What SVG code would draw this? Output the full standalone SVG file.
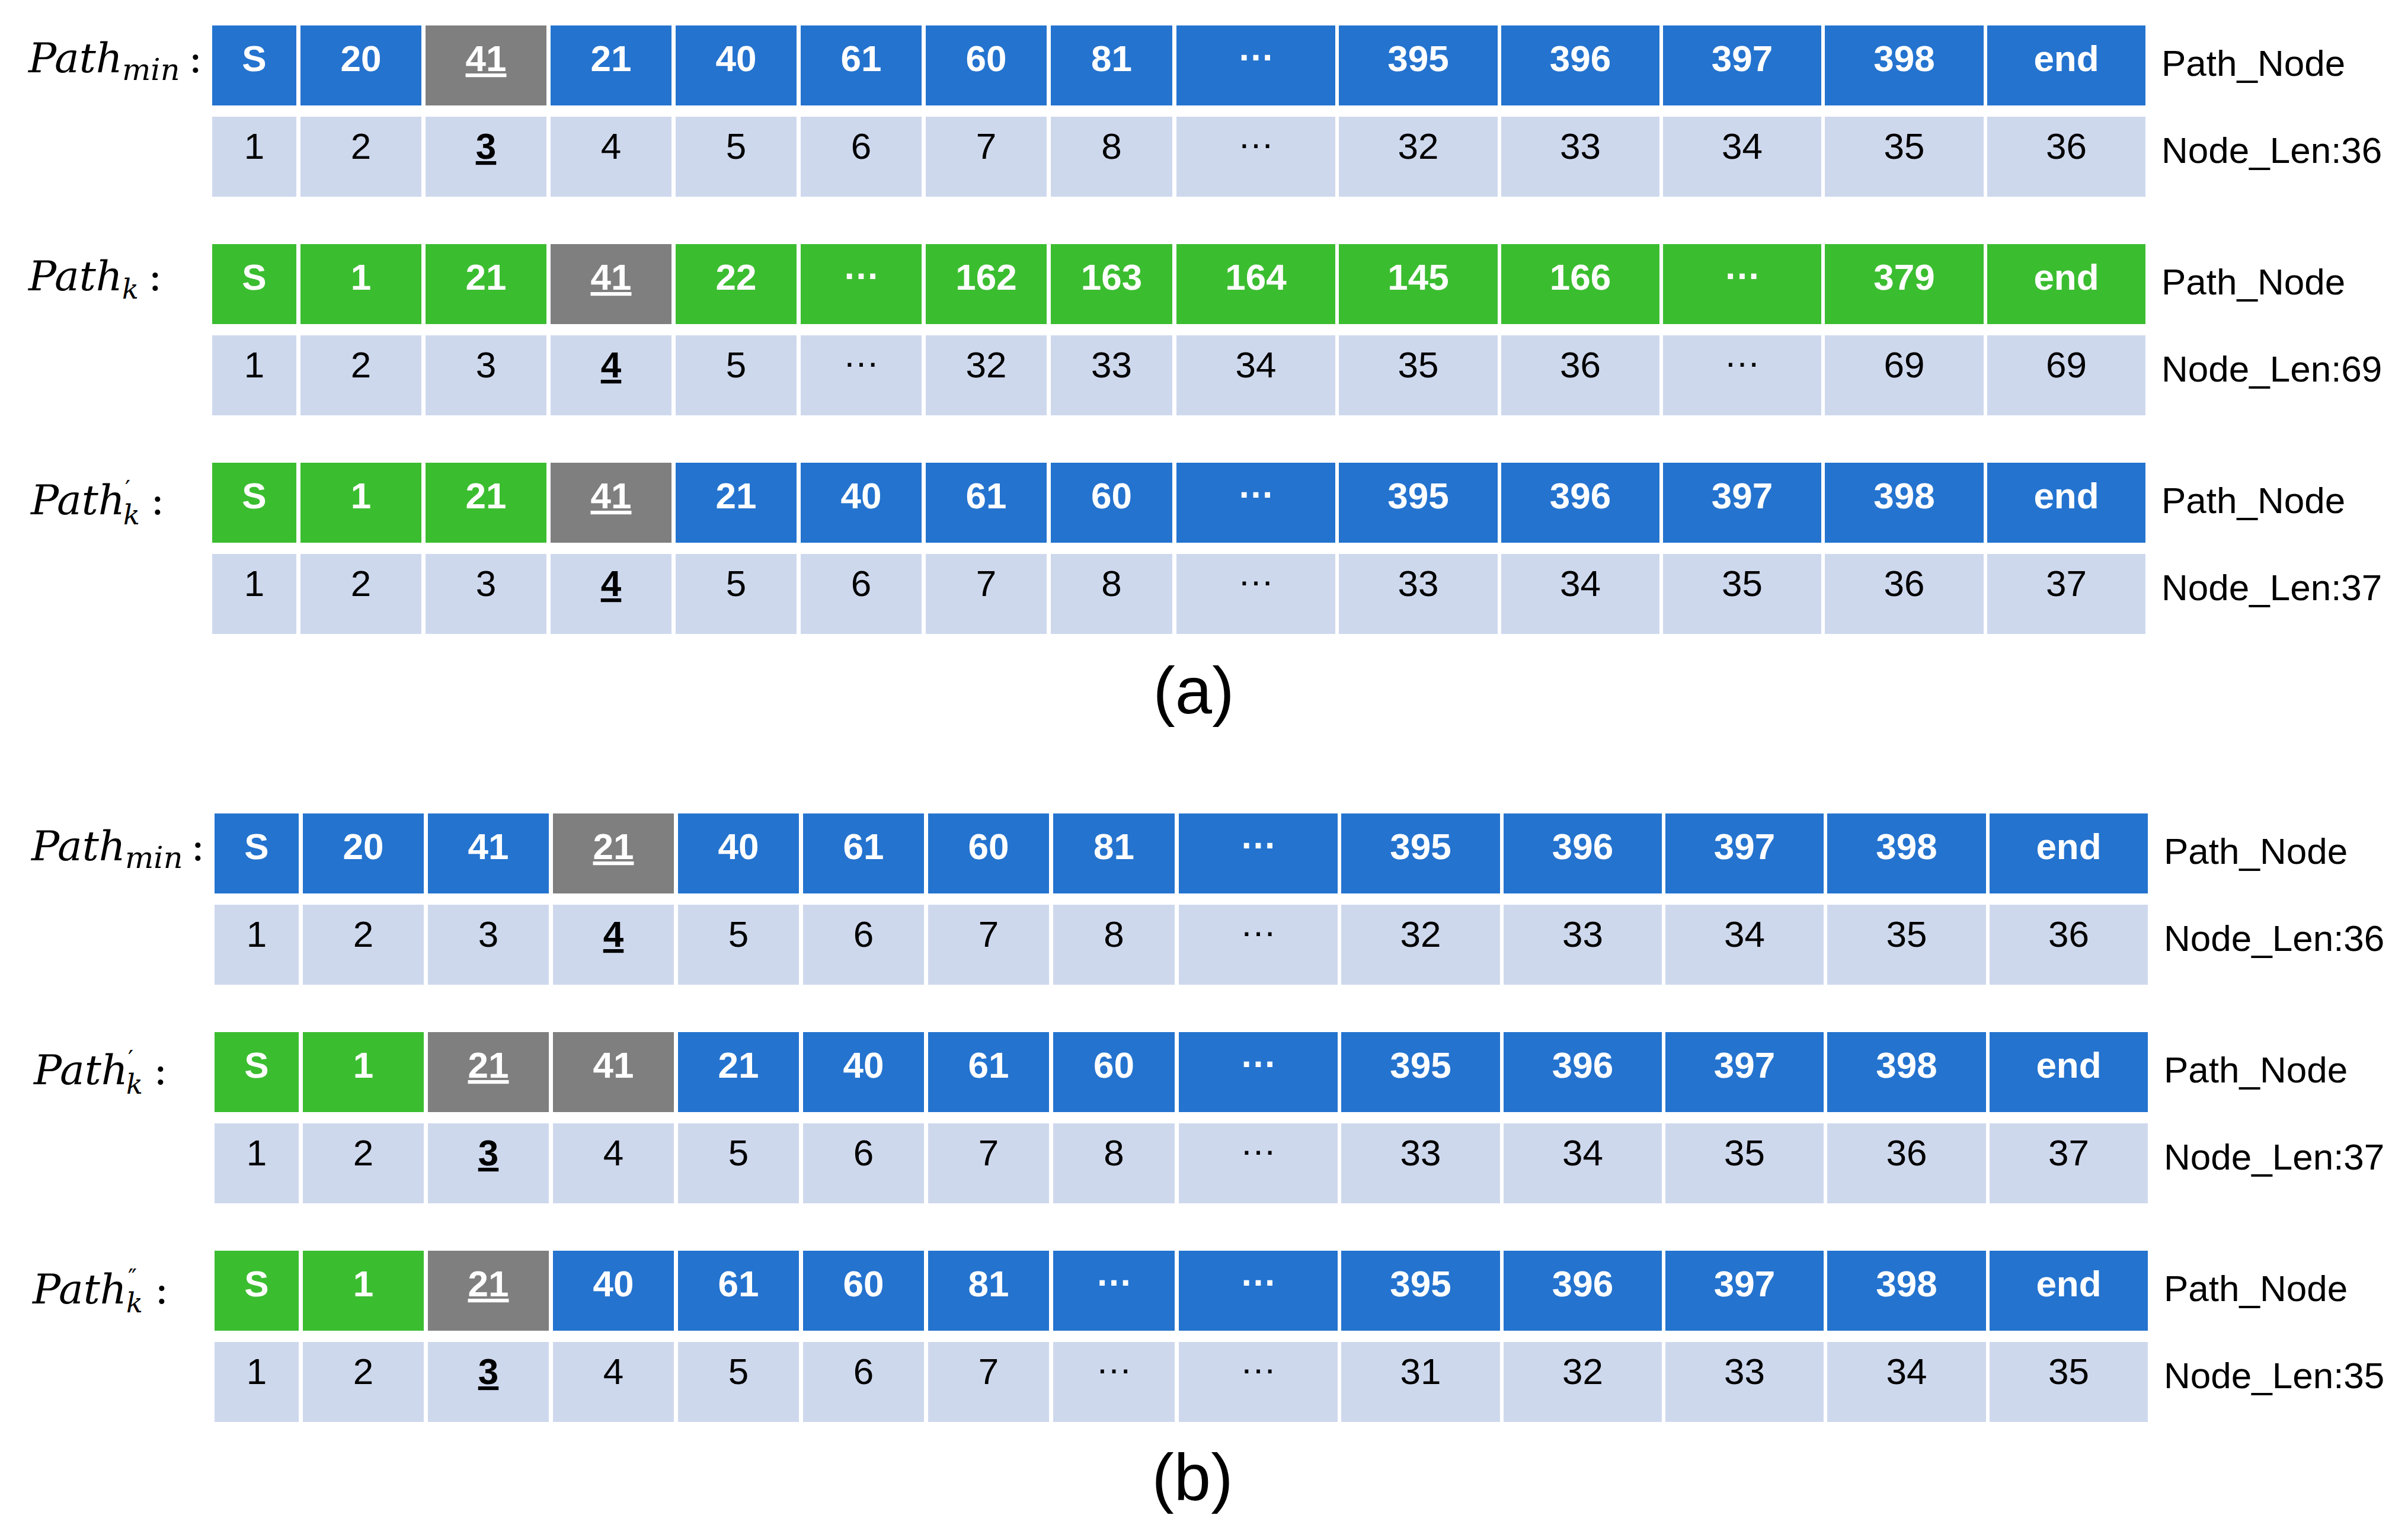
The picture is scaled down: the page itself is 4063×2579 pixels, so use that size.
<svg xmlns="http://www.w3.org/2000/svg" width="4063" height="2579" viewBox="0 0 4063 2579">
<style>
.b{fill:#2473CF}.g{fill:#3BBD30}.x{fill:#7F7F7F}.l{fill:#CED8ED}
.t{font-family:"Liberation Sans",Arial,sans-serif;font-weight:bold;font-size:62px;fill:#fff;text-anchor:middle}
.n{font-family:"Liberation Sans",Arial,sans-serif;font-size:62px;fill:#000;text-anchor:middle}
.u{text-decoration:underline}
.nb{font-weight:bold}
.r{font-family:"Liberation Sans",Arial,sans-serif;font-size:62px;fill:#000}
.pl{font-family:"DejaVu Serif",serif;font-style:italic;font-size:70px;fill:#000}
.sb{font-size:46px}
.sm{font-size:51px}
.pr{font-size:40px;font-style:normal}
.co{font-style:normal}
.cap{font-family:"Liberation Sans",Arial,sans-serif;font-size:112px;fill:#000;text-anchor:middle}
</style>
<rect width="4063" height="2579" fill="#fff"/>
<g id="connectors"/>
<g id="panel-a">
<g id="a-pathmin" transform="translate(0,43)">
<text class="pl" x="48" y="79">Path<tspan class="sm" x="206" y="92">min</tspan><tspan class="co" x="318" y="79">:</tspan></text>
<g id="a1-c0"><rect class="b" x="358" width="142" height="135"/><text class="t" x="429" y="77">S</text></g>
<g id="a1-c1"><rect class="b" x="507" width="204" height="135"/><text class="t" x="609" y="77">20</text></g>
<g id="a1-c2"><rect class="x" x="718" width="204" height="135"/><text class="t u" x="820" y="77">41</text></g>
<g id="a1-c3"><rect class="b" x="929" width="204" height="135"/><text class="t" x="1031" y="77">21</text></g>
<g id="a1-c4"><rect class="b" x="1140" width="204" height="135"/><text class="t" x="1242" y="77">40</text></g>
<g id="a1-c5"><rect class="b" x="1351" width="204" height="135"/><text class="t" x="1453" y="77">61</text></g>
<g id="a1-c6"><rect class="b" x="1562" width="204" height="135"/><text class="t" x="1664" y="77">60</text></g>
<g id="a1-c7"><rect class="b" x="1773" width="205" height="135"/><text class="t" x="1875.5" y="77">81</text></g>
<g id="a1-c8"><rect class="b" x="1985" width="268" height="135"/><text class="t" x="2119" y="59">…</text></g>
<g id="a1-c9"><rect class="b" x="2259" width="268" height="135"/><text class="t" x="2393" y="77">395</text></g>
<g id="a1-c10"><rect class="b" x="2533" width="267" height="135"/><text class="t" x="2666.5" y="77">396</text></g>
<g id="a1-c11"><rect class="b" x="2806" width="267" height="135"/><text class="t" x="2939.5" y="77">397</text></g>
<g id="a1-c12"><rect class="b" x="3079" width="268" height="135"/><text class="t" x="3213" y="77">398</text></g>
<g id="a1-c13"><rect class="b" x="3353" width="267" height="135"/><text class="t" x="3486.5" y="77">end</text></g>
<g id="a2-c0"><rect class="l" x="358" y="154" width="142" height="135"/><text class="n" x="429" y="225">1</text></g>
<g id="a2-c1"><rect class="l" x="507" y="154" width="204" height="135"/><text class="n" x="609" y="225">2</text></g>
<g id="a2-c2"><rect class="l" x="718" y="154" width="204" height="135"/><text class="n nb u" x="820" y="225">3</text></g>
<g id="a2-c3"><rect class="l" x="929" y="154" width="204" height="135"/><text class="n" x="1031" y="225">4</text></g>
<g id="a2-c4"><rect class="l" x="1140" y="154" width="204" height="135"/><text class="n" x="1242" y="225">5</text></g>
<g id="a2-c5"><rect class="l" x="1351" y="154" width="204" height="135"/><text class="n" x="1453" y="225">6</text></g>
<g id="a2-c6"><rect class="l" x="1562" y="154" width="204" height="135"/><text class="n" x="1664" y="225">7</text></g>
<g id="a2-c7"><rect class="l" x="1773" y="154" width="205" height="135"/><text class="n" x="1875.5" y="225">8</text></g>
<g id="a2-c8"><rect class="l" x="1985" y="154" width="268" height="135"/><text class="n" x="2119" y="207">…</text></g>
<g id="a2-c9"><rect class="l" x="2259" y="154" width="268" height="135"/><text class="n" x="2393" y="225">32</text></g>
<g id="a2-c10"><rect class="l" x="2533" y="154" width="267" height="135"/><text class="n" x="2666.5" y="225">33</text></g>
<g id="a2-c11"><rect class="l" x="2806" y="154" width="267" height="135"/><text class="n" x="2939.5" y="225">34</text></g>
<g id="a2-c12"><rect class="l" x="3079" y="154" width="268" height="135"/><text class="n" x="3213" y="225">35</text></g>
<g id="a2-c13"><rect class="l" x="3353" y="154" width="267" height="135"/><text class="n" x="3486.5" y="225">36</text></g>
<text class="r" x="3647" y="85">Path_Node</text>
<text class="r" x="3647" y="232">Node_Len:36</text>
</g>
<g id="a-pathk" transform="translate(0,412)">
<text class="pl" x="48" y="78">Path<tspan class="sb" x="206" y="92">k</tspan><tspan class="co" x="250" y="78">:</tspan></text>
<g id="a3-c0"><rect class="g" x="358" width="142" height="135"/><text class="t" x="429" y="77">S</text></g>
<g id="a3-c1"><rect class="g" x="507" width="204" height="135"/><text class="t" x="609" y="77">1</text></g>
<g id="a3-c2"><rect class="g" x="718" width="204" height="135"/><text class="t" x="820" y="77">21</text></g>
<g id="a3-c3"><rect class="x" x="929" width="204" height="135"/><text class="t u" x="1031" y="77">41</text></g>
<g id="a3-c4"><rect class="g" x="1140" width="204" height="135"/><text class="t" x="1242" y="77">22</text></g>
<g id="a3-c5"><rect class="g" x="1351" width="204" height="135"/><text class="t" x="1453" y="59">…</text></g>
<g id="a3-c6"><rect class="g" x="1562" width="204" height="135"/><text class="t" x="1664" y="77">162</text></g>
<g id="a3-c7"><rect class="g" x="1773" width="205" height="135"/><text class="t" x="1875.5" y="77">163</text></g>
<g id="a3-c8"><rect class="g" x="1985" width="268" height="135"/><text class="t" x="2119" y="77">164</text></g>
<g id="a3-c9"><rect class="g" x="2259" width="268" height="135"/><text class="t" x="2393" y="77">145</text></g>
<g id="a3-c10"><rect class="g" x="2533" width="267" height="135"/><text class="t" x="2666.5" y="77">166</text></g>
<g id="a3-c11"><rect class="g" x="2806" width="267" height="135"/><text class="t" x="2939.5" y="59">…</text></g>
<g id="a3-c12"><rect class="g" x="3079" width="268" height="135"/><text class="t" x="3213" y="77">379</text></g>
<g id="a3-c13"><rect class="g" x="3353" width="267" height="135"/><text class="t" x="3486.5" y="77">end</text></g>
<g id="a4-c0"><rect class="l" x="358" y="154" width="142" height="135"/><text class="n" x="429" y="225">1</text></g>
<g id="a4-c1"><rect class="l" x="507" y="154" width="204" height="135"/><text class="n" x="609" y="225">2</text></g>
<g id="a4-c2"><rect class="l" x="718" y="154" width="204" height="135"/><text class="n" x="820" y="225">3</text></g>
<g id="a4-c3"><rect class="l" x="929" y="154" width="204" height="135"/><text class="n nb u" x="1031" y="225">4</text></g>
<g id="a4-c4"><rect class="l" x="1140" y="154" width="204" height="135"/><text class="n" x="1242" y="225">5</text></g>
<g id="a4-c5"><rect class="l" x="1351" y="154" width="204" height="135"/><text class="n" x="1453" y="207">…</text></g>
<g id="a4-c6"><rect class="l" x="1562" y="154" width="204" height="135"/><text class="n" x="1664" y="225">32</text></g>
<g id="a4-c7"><rect class="l" x="1773" y="154" width="205" height="135"/><text class="n" x="1875.5" y="225">33</text></g>
<g id="a4-c8"><rect class="l" x="1985" y="154" width="268" height="135"/><text class="n" x="2119" y="225">34</text></g>
<g id="a4-c9"><rect class="l" x="2259" y="154" width="268" height="135"/><text class="n" x="2393" y="225">35</text></g>
<g id="a4-c10"><rect class="l" x="2533" y="154" width="267" height="135"/><text class="n" x="2666.5" y="225">36</text></g>
<g id="a4-c11"><rect class="l" x="2806" y="154" width="267" height="135"/><text class="n" x="2939.5" y="207">…</text></g>
<g id="a4-c12"><rect class="l" x="3079" y="154" width="268" height="135"/><text class="n" x="3213" y="225">69</text></g>
<g id="a4-c13"><rect class="l" x="3353" y="154" width="267" height="135"/><text class="n" x="3486.5" y="225">69</text></g>
<text class="r" x="3647" y="85">Path_Node</text>
<text class="r" x="3647" y="232">Node_Len:69</text>
</g>
<g id="a-pathk1" transform="translate(0,781)">
<text class="pl" x="52" y="87">Path<tspan class="sb" x="208" y="104">k</tspan><tspan class="pr" x="211" y="58">′</tspan><tspan class="co" x="254" y="87">:</tspan></text>
<g id="a5-c0"><rect class="g" x="358" width="142" height="135"/><text class="t" x="429" y="77">S</text></g>
<g id="a5-c1"><rect class="g" x="507" width="204" height="135"/><text class="t" x="609" y="77">1</text></g>
<g id="a5-c2"><rect class="g" x="718" width="204" height="135"/><text class="t" x="820" y="77">21</text></g>
<g id="a5-c3"><rect class="x" x="929" width="204" height="135"/><text class="t u" x="1031" y="77">41</text></g>
<g id="a5-c4"><rect class="b" x="1140" width="204" height="135"/><text class="t" x="1242" y="77">21</text></g>
<g id="a5-c5"><rect class="b" x="1351" width="204" height="135"/><text class="t" x="1453" y="77">40</text></g>
<g id="a5-c6"><rect class="b" x="1562" width="204" height="135"/><text class="t" x="1664" y="77">61</text></g>
<g id="a5-c7"><rect class="b" x="1773" width="205" height="135"/><text class="t" x="1875.5" y="77">60</text></g>
<g id="a5-c8"><rect class="b" x="1985" width="268" height="135"/><text class="t" x="2119" y="59">…</text></g>
<g id="a5-c9"><rect class="b" x="2259" width="268" height="135"/><text class="t" x="2393" y="77">395</text></g>
<g id="a5-c10"><rect class="b" x="2533" width="267" height="135"/><text class="t" x="2666.5" y="77">396</text></g>
<g id="a5-c11"><rect class="b" x="2806" width="267" height="135"/><text class="t" x="2939.5" y="77">397</text></g>
<g id="a5-c12"><rect class="b" x="3079" width="268" height="135"/><text class="t" x="3213" y="77">398</text></g>
<g id="a5-c13"><rect class="b" x="3353" width="267" height="135"/><text class="t" x="3486.5" y="77">end</text></g>
<g id="a6-c0"><rect class="l" x="358" y="154" width="142" height="135"/><text class="n" x="429" y="225">1</text></g>
<g id="a6-c1"><rect class="l" x="507" y="154" width="204" height="135"/><text class="n" x="609" y="225">2</text></g>
<g id="a6-c2"><rect class="l" x="718" y="154" width="204" height="135"/><text class="n" x="820" y="225">3</text></g>
<g id="a6-c3"><rect class="l" x="929" y="154" width="204" height="135"/><text class="n nb u" x="1031" y="225">4</text></g>
<g id="a6-c4"><rect class="l" x="1140" y="154" width="204" height="135"/><text class="n" x="1242" y="225">5</text></g>
<g id="a6-c5"><rect class="l" x="1351" y="154" width="204" height="135"/><text class="n" x="1453" y="225">6</text></g>
<g id="a6-c6"><rect class="l" x="1562" y="154" width="204" height="135"/><text class="n" x="1664" y="225">7</text></g>
<g id="a6-c7"><rect class="l" x="1773" y="154" width="205" height="135"/><text class="n" x="1875.5" y="225">8</text></g>
<g id="a6-c8"><rect class="l" x="1985" y="154" width="268" height="135"/><text class="n" x="2119" y="207">…</text></g>
<g id="a6-c9"><rect class="l" x="2259" y="154" width="268" height="135"/><text class="n" x="2393" y="225">33</text></g>
<g id="a6-c10"><rect class="l" x="2533" y="154" width="267" height="135"/><text class="n" x="2666.5" y="225">34</text></g>
<g id="a6-c11"><rect class="l" x="2806" y="154" width="267" height="135"/><text class="n" x="2939.5" y="225">35</text></g>
<g id="a6-c12"><rect class="l" x="3079" y="154" width="268" height="135"/><text class="n" x="3213" y="225">36</text></g>
<g id="a6-c13"><rect class="l" x="3353" y="154" width="267" height="135"/><text class="n" x="3486.5" y="225">37</text></g>
<text class="r" x="3647" y="85">Path_Node</text>
<text class="r" x="3647" y="232">Node_Len:37</text>
</g>
<text id="cap-a" class="cap" x="2014" y="1204">(a)</text>
</g>
<g id="panel-b">
<g id="b-pathmin" transform="translate(4,1373)">
<text class="pl" x="49" y="79">Path<tspan class="sm" x="207" y="92">min</tspan><tspan class="co" x="318" y="79">:</tspan></text>
<g id="b1-c0"><rect class="b" x="358" width="142" height="135"/><text class="t" x="429" y="77">S</text></g>
<g id="b1-c1"><rect class="b" x="507" width="204" height="135"/><text class="t" x="609" y="77">20</text></g>
<g id="b1-c2"><rect class="b" x="718" width="204" height="135"/><text class="t" x="820" y="77">41</text></g>
<g id="b1-c3"><rect class="x" x="929" width="204" height="135"/><text class="t u" x="1031" y="77">21</text></g>
<g id="b1-c4"><rect class="b" x="1140" width="204" height="135"/><text class="t" x="1242" y="77">40</text></g>
<g id="b1-c5"><rect class="b" x="1351" width="204" height="135"/><text class="t" x="1453" y="77">61</text></g>
<g id="b1-c6"><rect class="b" x="1562" width="204" height="135"/><text class="t" x="1664" y="77">60</text></g>
<g id="b1-c7"><rect class="b" x="1773" width="205" height="135"/><text class="t" x="1875.5" y="77">81</text></g>
<g id="b1-c8"><rect class="b" x="1985" width="268" height="135"/><text class="t" x="2119" y="59">…</text></g>
<g id="b1-c9"><rect class="b" x="2259" width="268" height="135"/><text class="t" x="2393" y="77">395</text></g>
<g id="b1-c10"><rect class="b" x="2533" width="267" height="135"/><text class="t" x="2666.5" y="77">396</text></g>
<g id="b1-c11"><rect class="b" x="2806" width="267" height="135"/><text class="t" x="2939.5" y="77">397</text></g>
<g id="b1-c12"><rect class="b" x="3079" width="268" height="135"/><text class="t" x="3213" y="77">398</text></g>
<g id="b1-c13"><rect class="b" x="3353" width="267" height="135"/><text class="t" x="3486.5" y="77">end</text></g>
<g id="b2-c0"><rect class="l" x="358" y="154" width="142" height="135"/><text class="n" x="429" y="225">1</text></g>
<g id="b2-c1"><rect class="l" x="507" y="154" width="204" height="135"/><text class="n" x="609" y="225">2</text></g>
<g id="b2-c2"><rect class="l" x="718" y="154" width="204" height="135"/><text class="n" x="820" y="225">3</text></g>
<g id="b2-c3"><rect class="l" x="929" y="154" width="204" height="135"/><text class="n nb u" x="1031" y="225">4</text></g>
<g id="b2-c4"><rect class="l" x="1140" y="154" width="204" height="135"/><text class="n" x="1242" y="225">5</text></g>
<g id="b2-c5"><rect class="l" x="1351" y="154" width="204" height="135"/><text class="n" x="1453" y="225">6</text></g>
<g id="b2-c6"><rect class="l" x="1562" y="154" width="204" height="135"/><text class="n" x="1664" y="225">7</text></g>
<g id="b2-c7"><rect class="l" x="1773" y="154" width="205" height="135"/><text class="n" x="1875.5" y="225">8</text></g>
<g id="b2-c8"><rect class="l" x="1985" y="154" width="268" height="135"/><text class="n" x="2119" y="207">…</text></g>
<g id="b2-c9"><rect class="l" x="2259" y="154" width="268" height="135"/><text class="n" x="2393" y="225">32</text></g>
<g id="b2-c10"><rect class="l" x="2533" y="154" width="267" height="135"/><text class="n" x="2666.5" y="225">33</text></g>
<g id="b2-c11"><rect class="l" x="2806" y="154" width="267" height="135"/><text class="n" x="2939.5" y="225">34</text></g>
<g id="b2-c12"><rect class="l" x="3079" y="154" width="268" height="135"/><text class="n" x="3213" y="225">35</text></g>
<g id="b2-c13"><rect class="l" x="3353" y="154" width="267" height="135"/><text class="n" x="3486.5" y="225">36</text></g>
<text class="r" x="3647" y="85">Path_Node</text>
<text class="r" x="3647" y="232">Node_Len:36</text>
</g>
<g id="b-pathk1" transform="translate(4,1742)">
<text class="pl" x="53" y="88">Path<tspan class="sb" x="209" y="104">k</tspan><tspan class="pr" x="212" y="59">′</tspan><tspan class="co" x="255" y="88">:</tspan></text>
<g id="b3-c0"><rect class="g" x="358" width="142" height="135"/><text class="t" x="429" y="77">S</text></g>
<g id="b3-c1"><rect class="g" x="507" width="204" height="135"/><text class="t" x="609" y="77">1</text></g>
<g id="b3-c2"><rect class="x" x="718" width="204" height="135"/><text class="t u" x="820" y="77">21</text></g>
<g id="b3-c3"><rect class="x" x="929" width="204" height="135"/><text class="t" x="1031" y="77">41</text></g>
<g id="b3-c4"><rect class="b" x="1140" width="204" height="135"/><text class="t" x="1242" y="77">21</text></g>
<g id="b3-c5"><rect class="b" x="1351" width="204" height="135"/><text class="t" x="1453" y="77">40</text></g>
<g id="b3-c6"><rect class="b" x="1562" width="204" height="135"/><text class="t" x="1664" y="77">61</text></g>
<g id="b3-c7"><rect class="b" x="1773" width="205" height="135"/><text class="t" x="1875.5" y="77">60</text></g>
<g id="b3-c8"><rect class="b" x="1985" width="268" height="135"/><text class="t" x="2119" y="59">…</text></g>
<g id="b3-c9"><rect class="b" x="2259" width="268" height="135"/><text class="t" x="2393" y="77">395</text></g>
<g id="b3-c10"><rect class="b" x="2533" width="267" height="135"/><text class="t" x="2666.5" y="77">396</text></g>
<g id="b3-c11"><rect class="b" x="2806" width="267" height="135"/><text class="t" x="2939.5" y="77">397</text></g>
<g id="b3-c12"><rect class="b" x="3079" width="268" height="135"/><text class="t" x="3213" y="77">398</text></g>
<g id="b3-c13"><rect class="b" x="3353" width="267" height="135"/><text class="t" x="3486.5" y="77">end</text></g>
<g id="b4-c0"><rect class="l" x="358" y="154" width="142" height="135"/><text class="n" x="429" y="225">1</text></g>
<g id="b4-c1"><rect class="l" x="507" y="154" width="204" height="135"/><text class="n" x="609" y="225">2</text></g>
<g id="b4-c2"><rect class="l" x="718" y="154" width="204" height="135"/><text class="n nb u" x="820" y="225">3</text></g>
<g id="b4-c3"><rect class="l" x="929" y="154" width="204" height="135"/><text class="n" x="1031" y="225">4</text></g>
<g id="b4-c4"><rect class="l" x="1140" y="154" width="204" height="135"/><text class="n" x="1242" y="225">5</text></g>
<g id="b4-c5"><rect class="l" x="1351" y="154" width="204" height="135"/><text class="n" x="1453" y="225">6</text></g>
<g id="b4-c6"><rect class="l" x="1562" y="154" width="204" height="135"/><text class="n" x="1664" y="225">7</text></g>
<g id="b4-c7"><rect class="l" x="1773" y="154" width="205" height="135"/><text class="n" x="1875.5" y="225">8</text></g>
<g id="b4-c8"><rect class="l" x="1985" y="154" width="268" height="135"/><text class="n" x="2119" y="207">…</text></g>
<g id="b4-c9"><rect class="l" x="2259" y="154" width="268" height="135"/><text class="n" x="2393" y="225">33</text></g>
<g id="b4-c10"><rect class="l" x="2533" y="154" width="267" height="135"/><text class="n" x="2666.5" y="225">34</text></g>
<g id="b4-c11"><rect class="l" x="2806" y="154" width="267" height="135"/><text class="n" x="2939.5" y="225">35</text></g>
<g id="b4-c12"><rect class="l" x="3079" y="154" width="268" height="135"/><text class="n" x="3213" y="225">36</text></g>
<g id="b4-c13"><rect class="l" x="3353" y="154" width="267" height="135"/><text class="n" x="3486.5" y="225">37</text></g>
<text class="r" x="3647" y="85">Path_Node</text>
<text class="r" x="3647" y="232">Node_Len:37</text>
</g>
<g id="b-pathk2" transform="translate(4,2111)">
<text class="pl" x="51" y="89">Path<tspan class="sb" x="209" y="104">k</tspan><tspan class="pr" x="212" y="59">″</tspan><tspan class="co" x="257" y="89">:</tspan></text>
<g id="b5-c0"><rect class="g" x="358" width="142" height="135"/><text class="t" x="429" y="77">S</text></g>
<g id="b5-c1"><rect class="g" x="507" width="204" height="135"/><text class="t" x="609" y="77">1</text></g>
<g id="b5-c2"><rect class="x" x="718" width="204" height="135"/><text class="t u" x="820" y="77">21</text></g>
<g id="b5-c3"><rect class="b" x="929" width="204" height="135"/><text class="t" x="1031" y="77">40</text></g>
<g id="b5-c4"><rect class="b" x="1140" width="204" height="135"/><text class="t" x="1242" y="77">61</text></g>
<g id="b5-c5"><rect class="b" x="1351" width="204" height="135"/><text class="t" x="1453" y="77">60</text></g>
<g id="b5-c6"><rect class="b" x="1562" width="204" height="135"/><text class="t" x="1664" y="77">81</text></g>
<g id="b5-c7"><rect class="b" x="1773" width="205" height="135"/><text class="t" x="1875.5" y="59">…</text></g>
<g id="b5-c8"><rect class="b" x="1985" width="268" height="135"/><text class="t" x="2119" y="59">…</text></g>
<g id="b5-c9"><rect class="b" x="2259" width="268" height="135"/><text class="t" x="2393" y="77">395</text></g>
<g id="b5-c10"><rect class="b" x="2533" width="267" height="135"/><text class="t" x="2666.5" y="77">396</text></g>
<g id="b5-c11"><rect class="b" x="2806" width="267" height="135"/><text class="t" x="2939.5" y="77">397</text></g>
<g id="b5-c12"><rect class="b" x="3079" width="268" height="135"/><text class="t" x="3213" y="77">398</text></g>
<g id="b5-c13"><rect class="b" x="3353" width="267" height="135"/><text class="t" x="3486.5" y="77">end</text></g>
<g id="b6-c0"><rect class="l" x="358" y="154" width="142" height="135"/><text class="n" x="429" y="225">1</text></g>
<g id="b6-c1"><rect class="l" x="507" y="154" width="204" height="135"/><text class="n" x="609" y="225">2</text></g>
<g id="b6-c2"><rect class="l" x="718" y="154" width="204" height="135"/><text class="n nb u" x="820" y="225">3</text></g>
<g id="b6-c3"><rect class="l" x="929" y="154" width="204" height="135"/><text class="n" x="1031" y="225">4</text></g>
<g id="b6-c4"><rect class="l" x="1140" y="154" width="204" height="135"/><text class="n" x="1242" y="225">5</text></g>
<g id="b6-c5"><rect class="l" x="1351" y="154" width="204" height="135"/><text class="n" x="1453" y="225">6</text></g>
<g id="b6-c6"><rect class="l" x="1562" y="154" width="204" height="135"/><text class="n" x="1664" y="225">7</text></g>
<g id="b6-c7"><rect class="l" x="1773" y="154" width="205" height="135"/><text class="n" x="1875.5" y="207">…</text></g>
<g id="b6-c8"><rect class="l" x="1985" y="154" width="268" height="135"/><text class="n" x="2119" y="207">…</text></g>
<g id="b6-c9"><rect class="l" x="2259" y="154" width="268" height="135"/><text class="n" x="2393" y="225">31</text></g>
<g id="b6-c10"><rect class="l" x="2533" y="154" width="267" height="135"/><text class="n" x="2666.5" y="225">32</text></g>
<g id="b6-c11"><rect class="l" x="2806" y="154" width="267" height="135"/><text class="n" x="2939.5" y="225">33</text></g>
<g id="b6-c12"><rect class="l" x="3079" y="154" width="268" height="135"/><text class="n" x="3213" y="225">34</text></g>
<g id="b6-c13"><rect class="l" x="3353" y="154" width="267" height="135"/><text class="n" x="3486.5" y="225">35</text></g>
<text class="r" x="3647" y="85">Path_Node</text>
<text class="r" x="3647" y="232">Node_Len:35</text>
</g>
<text id="cap-b" class="cap" x="2012" y="2532">(b)</text>
</g>
</svg>
